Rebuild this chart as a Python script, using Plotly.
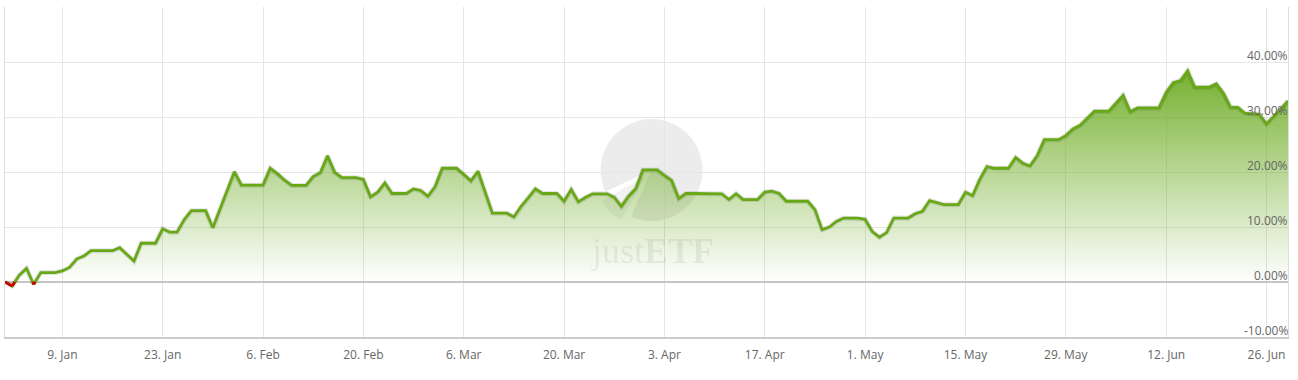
import math
import pandas as pd
import plotly.graph_objects as go

# ---------------- data ----------------
start_date = "2023-01-01"
# daily performance in % (calendar days, weekends repeat the last close)
perf = [
    0.00, -0.73, 1.23, 2.46, -0.42, 1.72, 1.72, 1.72, 2.02, 2.64,
    4.17, 4.72, 5.69, 5.69, 5.69, 5.69, 6.24, 5.03, 3.80, 7.05,
    7.05, 7.05, 9.67, 9.06, 9.06, 11.32, 12.97, 12.97, 12.97, 9.85,
    13.25, 16.64, 20.04, 17.61, 17.61, 17.61, 17.61, 20.68, 19.71, 18.50,
    17.56, 17.56, 17.56, 19.16, 19.89, 22.94, 19.94, 18.97, 18.97, 18.97,
    18.66, 15.49, 16.33, 18.02, 16.09, 16.09, 16.09, 16.92, 16.64, 15.58,
    17.32, 20.68, 20.68, 20.68, 19.58, 18.39, 20.13, 16.46, 12.51, 12.51,
    12.51, 11.82, 13.76, 15.30, 16.95, 16.09, 16.09, 16.09, 14.68, 16.83,
    14.57, 15.41, 16.04, 16.04, 16.04, 15.41, 13.76, 15.60, 16.95, 20.37,
    20.37, 20.37, 19.39, 18.48, 15.17, 16.09, 16.09, 16.09, 16.09, 16.09,
    16.04, 14.99, 16.04, 14.99, 14.99, 14.99, 16.33, 16.51, 16.09, 14.68,
    14.68, 14.68, 14.68, 13.16, 9.49, 9.98, 11.01, 11.63, 11.63, 11.63,
    11.41, 9.17, 8.15, 8.99, 11.63, 11.63, 11.63, 12.42, 12.84, 14.81,
    14.39, 14.07, 14.07, 14.07, 16.33, 15.72, 18.66, 20.99, 20.68, 20.68,
    20.68, 22.64, 21.60, 21.10, 22.94, 25.87, 25.87, 25.87, 26.61, 27.83,
    28.48, 29.85, 31.05, 31.05, 31.05, 32.51, 33.94, 30.95, 31.65, 31.65,
    31.65, 31.65, 34.44, 36.24, 36.64, 38.39, 35.41, 35.41, 35.41, 36.04,
    34.31, 31.74, 31.74, 30.68, 30.59, 30.50, 28.75, 30.05, 31.45, 32.92,
]
dates = pd.date_range(start_date, periods=len(perf), freq="D")

y_range = [-10, 50]
y_tickvals = [-10, 0, 10, 20, 30, 40, 50]
y_ticktext = ["-10.00%", "0.00%", "10.00%", "20.00%", "30.00%", "40.00%", ""]
x_tick_start = "2023-01-09"
x_tick_end = "2023-06-26"
x_tick_step = "14D"
x_tickvals = [d.strftime("%Y-%m-%d") for d in pd.date_range(x_tick_start, x_tick_end, freq=x_tick_step)]
x_ticktext = [f"{pd.Timestamp(d).day}. {pd.Timestamp(d).strftime('%b')}" for d in x_tickvals]

# ---------------- styles ----------------
GREEN = "rgb(104,168,22)"
RED = "rgb(204,0,0)"
GRID = "#e6e6e6"
LABEL = "#666666"
FONT = "Open Sans"

# negative segments (red zone below threshold 0)
red_x, red_y = [], []
for i in range(len(perf) - 1):
    a, b = perf[i], perf[i + 1]
    da, db = dates[i], dates[i + 1]
    if a <= 0 and b <= 0:
        red_x += [da, db, None]
        red_y += [a, b, None]
    elif (a > 0) != (b > 0):
        t = a / (a - b)
        dc = da + (db - da) * t
        if a <= 0:
            red_x += [da, dc, None]
            red_y += [a, 0, None]
        else:
            red_x += [dc, db, None]
            red_y += [0, b, None]

fig = go.Figure()

fig.add_trace(go.Scatter(
    x=dates, y=perf, mode="lines", fill="tozeroy",
    line=dict(color="rgba(0,0,0,0)", width=0),
    fillgradient=dict(
        type="vertical", start=0, stop=max(perf),
        colorscale=[[0, "rgba(106,170,30,0.0)"],
                    [0.5, "rgba(106,170,30,0.45)"],
                    [1, "rgba(106,170,30,0.92)"]],
    ),
    hoverinfo="skip", showlegend=False,
))
# soft shadow
fig.add_trace(go.Scatter(
    x=dates, y=perf, mode="lines",
    line=dict(color="rgba(0,0,0,0.10)", width=5),
    hoverinfo="skip", showlegend=False,
))
fig.add_trace(go.Scatter(
    x=dates, y=perf, mode="lines",
    line=dict(color=GREEN, width=2.8),
    hoverinfo="skip", showlegend=False,
))
fig.add_trace(go.Scatter(
    x=red_x, y=red_y, mode="lines",
    line=dict(color=RED, width=2.8),
    hoverinfo="skip", showlegend=False,
))

# ---------------- watermark (justETF logo) ----------------
cx, cy = 0.504, 0.506
R = 51


def sector(r, a0, a1, ox=0.0, oy=0.0, n=24):
    pts = [(ox, oy)]
    for k in range(n + 1):
        a = math.radians(a0 + (a1 - a0) * k / n)
        pts.append((ox + r * math.cos(a), oy + r * math.sin(a)))
    return "M " + " L ".join(f"{x:.2f},{y:.2f}" for x, y in pts) + " Z"


shapes = [
    dict(type="circle", xref="paper", yref="paper", xsizemode="pixel", ysizemode="pixel",
         xanchor=cx, yanchor=cy, x0=-R, x1=R, y0=-R, y1=R,
         fillcolor="rgba(0,0,0,0.075)", line=dict(width=0), layer="below"),
    dict(type="path", xref="paper", yref="paper", xsizemode="pixel", ysizemode="pixel",
         xanchor=cx, yanchor=cy, path=sector(R + 1, 205, 246),
         fillcolor="white", line=dict(width=0), layer="below"),
    dict(type="path", xref="paper", yref="paper", xsizemode="pixel", ysizemode="pixel",
         xanchor=cx, yanchor=cy,
         path=sector(R, 210, 241, ox=-8 * math.cos(math.radians(45)), oy=-8 * math.sin(math.radians(45))),
         fillcolor="rgba(0,0,0,0.05)", line=dict(width=0), layer="below"),
]

# y-axis value labels, placed inside the plot just above each grid line
annotations = [
    dict(xref="paper", yref="y", x=1, y=v, xanchor="right", yanchor="bottom",
         text=t, showarrow=False, xshift=2, yshift=-4,
         font=dict(family=FONT, size=12, color=LABEL))
    for v, t in zip(y_tickvals, y_ticktext) if t
]
annotations.append(dict(
    xref="paper", yref="paper", x=cx, y=0.26, xanchor="center", yanchor="middle",
    text="just<b>ETF</b>", showarrow=False,
    font=dict(family="Liberation Serif", size=36, color="rgba(0,0,0,0.07)"),
))

fig.update_layout(
    width=1298, height=380,
    margin=dict(l=5, r=10, t=7, b=43),
    paper_bgcolor="white", plot_bgcolor="white",
    font=dict(family=FONT, size=12, color=LABEL),
    showlegend=False,
    shapes=shapes,
    annotations=annotations,
    xaxis=dict(
        type="date", range=[dates[0], dates[-1]],
        tickmode="array", tickvals=x_tickvals, ticktext=x_ticktext,
        showgrid=True, gridcolor=GRID, gridwidth=1,
        ticks="", showline=True, linecolor="#cccccc", linewidth=2,
        zeroline=False, tickfont=dict(size=12, color=LABEL),
        ticklabelstandoff=6, ticklabeloverflow="allow",
    ),
    yaxis=dict(
        range=y_range, side="right", tickvals=y_tickvals, showticklabels=False,
        showgrid=True, gridcolor=GRID, gridwidth=1,
        zeroline=True, zerolinecolor="#c4c4c4", zerolinewidth=2,
        showline=True, mirror=True, linecolor="#dddddd", linewidth=1,
        ticks="",
    ),
)

fig.write_html("out.html")
